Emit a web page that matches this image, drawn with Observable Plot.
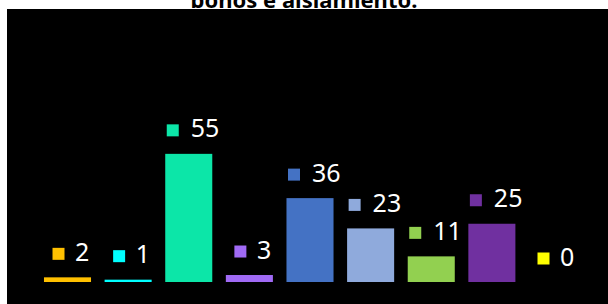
<!DOCTYPE html>
<html>
<head>
<meta charset="utf-8">
<script src="https://cdn.jsdelivr.net/npm/d3@7"></script>
<script src="https://cdn.jsdelivr.net/npm/@observablehq/plot@0.6"></script>
<style>
  html, body { margin: 0; padding: 0; background: #fff; overflow: hidden; }
  #title { font-family: "Noto Sans", sans-serif; font-weight: 700; font-size: 22px; line-height: 22px;
           text-align: center; color: #000; height: 9px; position: relative; overflow: visible; }
  #title span { position: absolute; left: 0; right: 0; bottom: -0.5px; white-space: nowrap; }
  #chart { padding-left: 7px; position: relative; }
  #chart svg { display: block; }
</style>
</head>
<body>
<div id="title"><span>bonos e aislamiento.</span></div>
<div id="chart"></div>
<script>
const categories = ["c1", "c2", "c3", "c4", "c5", "c6", "c7", "c8", "c9"];
const values = [2, 1, 55, 3, 36, 23, 11, 25, 0];
const colors = ["#FFC000", "#00FFFF", "#0CE6A8", "#A06AF5", "#4472C4", "#8FAADC", "#92D050", "#7030A0", "#FFFF00"];

const data = categories.map((c, i) => ({cat: c, value: values[i], color: colors[i], label: String(values[i])}));
const one = data.filter(d => d.label.length === 1);
const two = data.filter(d => d.label.length === 2);

const font = "'Noto Sans', sans-serif";
const chart = Plot.plot({
  width: 601,
  height: 295,
  marginLeft: 23.4,
  marginRight: 18.4,
  marginTop: 40,
  marginBottom: 22,
  style: {background: "#000", fontFamily: font},
  x: {domain: categories, padding: 0.224, round: false, axis: null},
  y: {domain: [0, 100], axis: null},
  marks: [
    Plot.barY(data, {x: "cat", y: "value", fill: "color"}),
    Plot.dot(one, {x: "cat", y: "value", symbol: "square", r: 6.77, fill: "color", stroke: null, dx: -9.5, dy: -24}),
    Plot.dot(two, {x: "cat", y: "value", symbol: "square", r: 6.77, fill: "color", stroke: null, dx: -16.5, dy: -24}),
    Plot.text(one, {x: "cat", y: "value", text: "label", fill: "#fff", fontSize: 25, textAnchor: "start", lineAnchor: "middle", dx: 7, dy: -25}),
    Plot.text(two, {x: "cat", y: "value", text: "label", fill: "#fff", fontSize: 25, textAnchor: "start", lineAnchor: "middle", dx: 1.5, dy: -25})
  ]
});
document.getElementById("chart").appendChild(chart);
</script>
</body>
</html>
